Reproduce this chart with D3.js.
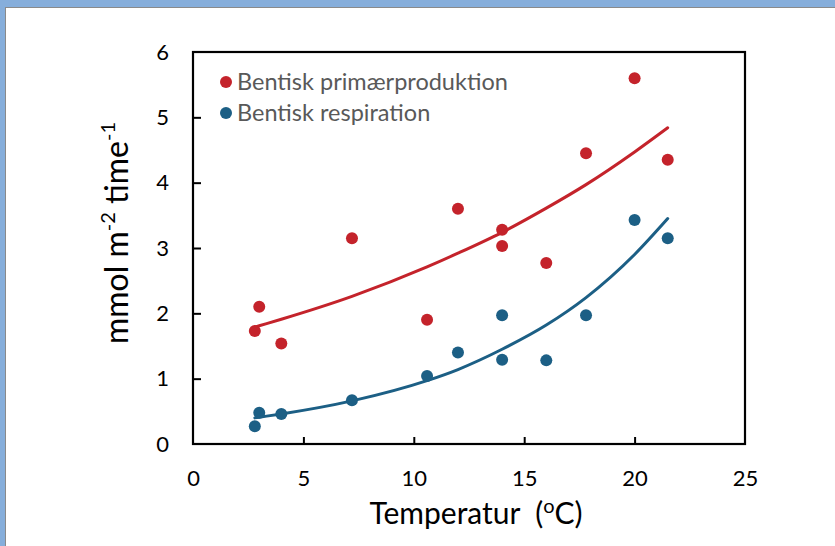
<!DOCTYPE html>
<html>
<head>
<meta charset="utf-8">
<script src="https://cdn.jsdelivr.net/npm/d3@7"></script>
<style>
  html, body { margin: 0; padding: 0; background: #fff; }
  svg { display: block; }
  text { font-family: Lato, "Open Sans", sans-serif; white-space: pre; }
</style>
</head>
<body>
<svg id="chart" width="835" height="546"></svg>
<script>
// ---- Data ----
const xTicks = [0, 5, 10, 15, 20, 25];
const yTicks = [0, 1, 2, 3, 4, 5, 6];

const prodTemp  = [2.8, 3.0, 4.0, 7.2, 10.6, 12.0, 14.0, 14.0, 16.0, 17.8, 20.0, 21.5];
const prodValue = [1.73, 2.10, 1.54, 3.15, 1.90, 3.60, 3.28, 3.03, 2.77, 4.45, 5.60, 4.35];

const respTemp  = [2.8, 3.0, 4.0, 7.2, 10.6, 12.0, 14.0, 14.0, 16.0, 17.8, 20.0, 21.5];
const respValue = [0.27, 0.48, 0.46, 0.67, 1.04, 1.40, 1.97, 1.29, 1.28, 1.97, 3.43, 3.15];

// trend lines
const trendTemp      = [2.8, 3.0, 4.0, 7.2, 10.6, 12.0, 14.0, 16.0, 17.8, 20.0, 21.5];
const prodTrendValue = [1.79, 1.81, 1.91, 2.26, 2.71, 2.92, 3.24, 3.61, 3.97, 4.47, 4.84];
const respTrendValue = [0.40, 0.41, 0.46, 0.66, 0.97, 1.14, 1.45, 1.82, 2.24, 2.90, 3.45];

const seriesNames = ["Bentisk primærproduktion", "Bentisk respiration"];
const seriesColors = ["#C4232B", "#1C5F85"];

// ---- Drawing ----
const svg = d3.select("#chart");

// window frame
svg.append("rect").attr("x", 0).attr("y", 0).attr("width", 835).attr("height", 546).attr("fill", "#fff");
svg.append("rect").attr("x", 0).attr("y", 0).attr("width", 835).attr("height", 7).attr("fill", "#86AEDB");
svg.append("rect").attr("x", 0).attr("y", 0).attr("width", 5).attr("height", 546).attr("fill", "#86AEDB");
svg.append("line").attr("x1", 5.5).attr("x2", 5.5).attr("y1", 7).attr("y2", 546).attr("stroke", "#8a8a8a").attr("stroke-width", 1);
svg.append("line").attr("x1", 5).attr("x2", 835).attr("y1", 7.5).attr("y2", 7.5).attr("stroke", "#8a8a8a").attr("stroke-width", 1);

const x = d3.scaleLinear().domain([0, 25]).range([193, 745]);
const y = d3.scaleLinear().domain([0, 6]).range([444, 52]);

// plot box
svg.append("rect")
  .attr("x", x(0)).attr("y", y(6))
  .attr("width", x(25) - x(0)).attr("height", y(0) - y(6))
  .attr("fill", "none").attr("stroke", "#000").attr("stroke-width", 2.2);

// x axis
const gx = svg.append("g").attr("transform", `translate(0,${y(0)})`)
  .call(d3.axisBottom(x).tickValues(xTicks).tickSize(-7).tickPadding(26).tickFormat(d3.format("d")));
gx.select(".domain").remove();
gx.selectAll(".tick line").attr("stroke", "#000").attr("stroke-width", 2)
  .filter(d => d === 0 || d === 25).remove();
gx.selectAll(".tick text").attr("font-size", 22).attr("fill", "#000")
  .attr("font-family", "Lato, 'Open Sans', sans-serif");

// y axis
const gy = svg.append("g").attr("transform", `translate(${x(0)},0)`)
  .call(d3.axisLeft(y).tickValues(yTicks).tickSize(-8).tickPadding(24).tickFormat(d3.format("d")));
gy.select(".domain").remove();
gy.selectAll(".tick line").attr("stroke", "#000").attr("stroke-width", 2)
  .filter(d => d === 0 || d === 6).remove();
gy.selectAll(".tick text").attr("font-size", 22).attr("fill", "#000")
  .attr("font-family", "Lato, 'Open Sans', sans-serif");

// trend lines
const line = d3.line().x(d => x(d[0])).y(d => y(d[1])).curve(d3.curveMonotoneX);
svg.append("path").datum(d3.zip(trendTemp, prodTrendValue))
  .attr("d", line).attr("fill", "none").attr("stroke", seriesColors[0])
  .attr("stroke-width", 3).attr("stroke-linecap", "round");
svg.append("path").datum(d3.zip(trendTemp, respTrendValue))
  .attr("d", line).attr("fill", "none").attr("stroke", seriesColors[1])
  .attr("stroke-width", 3).attr("stroke-linecap", "round");

// points
svg.append("g").selectAll("circle").data(d3.zip(prodTemp, prodValue)).join("circle")
  .attr("cx", d => x(d[0])).attr("cy", d => y(d[1])).attr("r", 6).attr("fill", seriesColors[0]);
svg.append("g").selectAll("circle").data(d3.zip(respTemp, respValue)).join("circle")
  .attr("cx", d => x(d[0])).attr("cy", d => y(d[1])).attr("r", 6).attr("fill", seriesColors[1]);

// legend
const legendY = [82, 113];
seriesNames.forEach((name, i) => {
  svg.append("circle").attr("cx", 226).attr("cy", legendY[i]).attr("r", 6).attr("fill", seriesColors[i]);
  svg.append("text").attr("x", 237).attr("y", legendY[i] + 8)
    .attr("font-size", 23.5).attr("fill", "#595959").text(name);
});

// x axis title
const xt = svg.append("text").attr("x", 476).attr("y", 524).attr("text-anchor", "middle")
  .attr("font-size", 30).attr("fill", "#000");
xt.append("tspan").text("Temperatur  (");
xt.append("tspan").attr("font-size", 20).attr("dy", -11).text("o");
xt.append("tspan").attr("dy", 11).text("C)");

// y axis title
const yt = svg.append("text").attr("transform", "translate(128,233) rotate(-90)")
  .attr("text-anchor", "middle").attr("font-size", 32).attr("fill", "#000");
yt.append("tspan").text("mmol m");
yt.append("tspan").attr("font-size", 20).attr("dy", -13).text("-2");
yt.append("tspan").attr("dy", 13).text(" time");
yt.append("tspan").attr("font-size", 20).attr("dy", -13).text("-1");
</script>
</body>
</html>
